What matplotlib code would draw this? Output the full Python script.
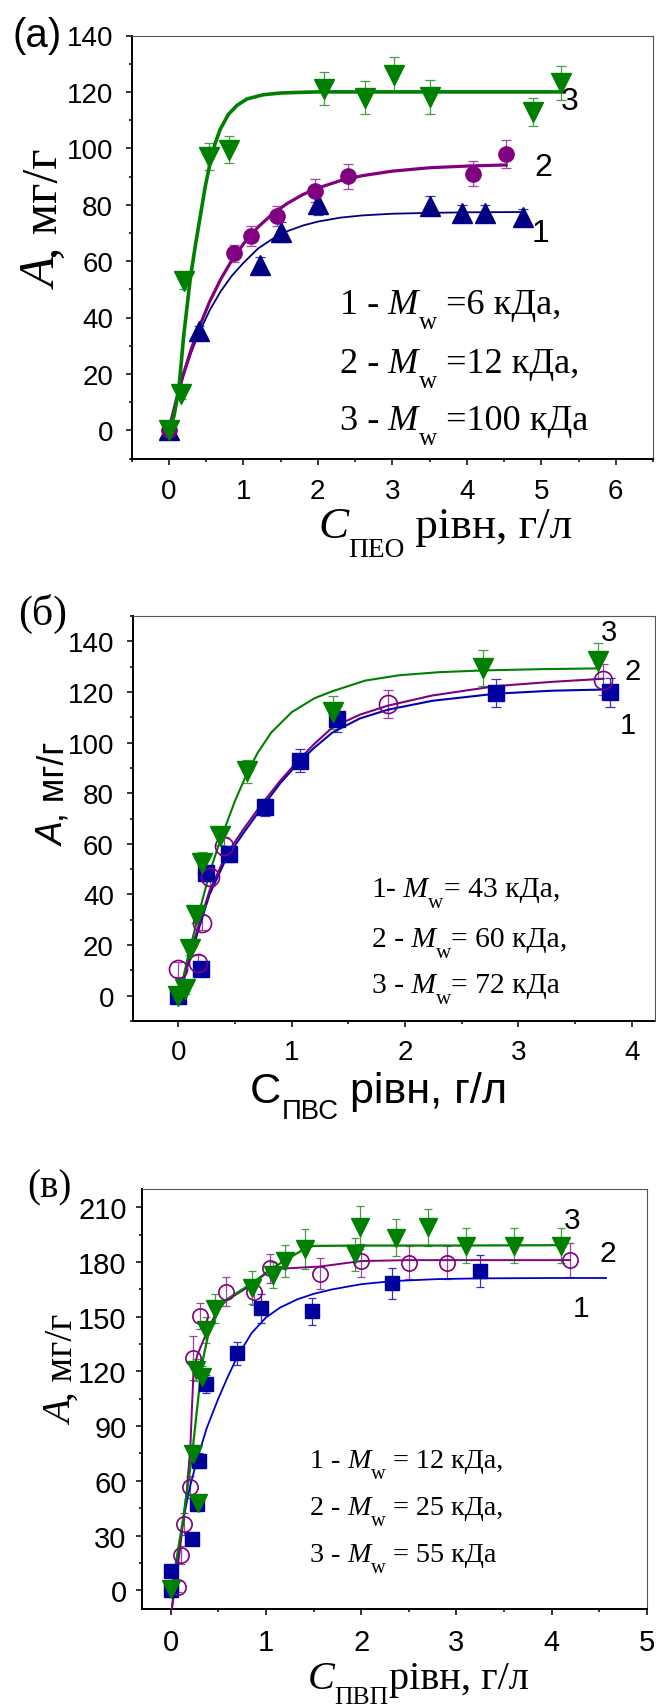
import matplotlib
matplotlib.use('Agg')
import matplotlib.pyplot as plt
from matplotlib.ticker import MultipleLocator

plt.rcParams['font.family'] = ['Liberation Sans', 'DejaVu Sans']
SANS = ['Liberation Sans', 'DejaVu Sans']
SERIF = ['Liberation Serif', 'DejaVu Serif']

# ---------------- data: panel (a) PEO ----------------
a1_x = [0, 0.41, 1.22, 1.50, 2.01, 3.51, 3.94, 4.25, 4.76]
a1_y = [0, 35.1, 58.5, 70.4, 80.2, 79.7, 77.0, 77.0, 75.6]
a1_err = [1.5, 2, 3, 3.5, 4, 3.5, 3, 3, 3]
a2_x = [0, 0.875, 1.11, 1.45, 1.96, 2.41, 4.09, 4.53]
a2_y = [0, 62.8, 69.0, 76.1, 85.0, 90.1, 91.0, 98.0]
a2_err = [1, 3, 3.5, 3.5, 4, 4.5, 4.5, 5]
a3_x = [0, 0.17, 0.21, 0.54, 0.81, 2.08, 2.63, 3.03, 3.51, 4.89, 5.26]
a3_y = [0, 13, 53, 97, 99.5, 121.2, 118, 126, 118.3, 113, 123.2]
a3_err = [1, 2, 3, 4.75, 4.75, 6, 6, 6.2, 6, 5, 6]
ac1_x = [0, 0.1, 0.2, 0.3, 0.4, 0.55, 0.7, 0.85, 1.0, 1.2, 1.4, 1.6, 1.8, 2.0, 2.3, 2.6, 3.0, 3.5, 4.0, 4.76]
ac1_y = [0, 10.5, 19.5, 27.4, 34.1, 42.6, 49.4, 54.9, 59.3, 64.5, 68.0, 70.7, 72.6, 74.0, 75.4, 76.2, 76.8, 77.1, 77.3, 77.4]
ac2_x = [0, 0.1, 0.2, 0.3, 0.4, 0.55, 0.7, 0.85, 1.0, 1.2, 1.4, 1.6, 1.8, 2.0, 2.3, 2.6, 3.0, 3.5, 4.0, 4.53]
ac2_y = [0, 10.7, 20.2, 28.6, 36.0, 45.7, 53.7, 60.4, 66.0, 72.1, 76.9, 80.6, 83.6, 85.9, 88.5, 90.3, 91.9, 93.1, 93.7, 94.1]
ac3_x = [0, 0.07, 0.135, 0.2, 0.29, 0.36, 0.424, 0.49, 0.557, 0.62, 0.69, 0.8, 0.92, 1.05, 1.27, 1.5, 1.72, 2.0, 3.0, 4.0, 5.26]
ac3_y = [0, 5, 14.5, 33.4, 54, 66, 76, 86.5, 95, 101.5, 106.7, 112, 115.3, 117.5, 119, 119.6, 119.8, 120, 120, 120, 120]
a_legend = ['=6 кДа,', '=12 кДа,', '=100 кДа']

# ---------------- data: panel (b) PVA ----------------
b1_x = [0, 0.20, 0.245, 0.443, 0.765, 1.07, 1.40, 2.80, 3.81]
b1_y = [0, 10.4, 48.4, 56, 74.4, 92.8, 109.3, 119.6, 119.9]
b1_err = [2, 2, 3, 3, 3.5, 4.6, 5.3, 5.7, 5.7]
b2_x = [0, 0.17, 0.21, 0.275, 0.40, 1.85, 3.75]
b2_y = [10.4, 13.1, 28.9, 46.7, 59.2, 115.3, 124.9]
b2_err = [3, 3, 3, 3.5, 3.5, 5.5, 6]
b3_x = [0, 0.055, 0.10, 0.158, 0.21, 0.363, 0.607, 1.366, 2.69, 3.70]
b3_y = [0, 2.5, 18.4, 31.8, 52.6, 63.2, 88.6, 112, 129.4, 132.4]
b3_err = [2, 2, 2.5, 3, 4, 3.5, 4.7, 6.5, 7, 7]
bc1_x = [0, 0.07, 0.17, 0.275, 0.42, 0.57, 0.715, 0.9, 1.07, 1.2, 1.36, 1.6, 1.85, 2.24, 2.8, 3.3, 3.81]
bc1_y = [-3, 10, 25, 40, 54, 64, 73, 84, 92.5, 98, 104, 109.5, 113, 116.5, 119.3, 120.5, 121]
bc2_x = [0, 0.07, 0.17, 0.275, 0.42, 0.57, 0.715, 0.9, 1.07, 1.2, 1.36, 1.6, 1.85, 2.24, 2.8, 3.3, 3.75]
bc2_y = [-2, 11.5, 26.5, 41.5, 55.5, 65.5, 74.5, 85, 93.5, 99.5, 106, 111, 114.6, 118.6, 122.3, 124, 125.2]
bc3_x = [0, 0.085, 0.19, 0.275, 0.363, 0.45, 0.5, 0.607, 0.7, 0.82, 1.0, 1.2, 1.36, 1.65, 1.95, 2.3, 2.69, 3.2, 3.71]
bc3_y = [-1.5, 15.5, 34, 48.5, 60.5, 71, 77, 88, 96, 104, 112, 117.5, 120.3, 124.5, 126.6, 127.8, 128.5, 129, 129.3]
b_legend = ['= 43 кДа,', '= 60 кДа,', '= 72 кДа']

# ---------------- data: panel (c) PVP ----------------
c1_x = [0, 0, 0.225, 0.277, 0.294, 0.375, 0.70, 0.95, 1.48, 2.325, 3.25]
c1_y = [0, 10.4, 27.9, 47.5, 71.0, 113.1, 129.9, 154.6, 153.0, 168.2, 174.8]
c1_err = [2, 3, 3, 3.5, 4, 5, 6.4, 8, 7.5, 8.4, 8.8]
c2_x = [0.08, 0.11, 0.137, 0.20, 0.23, 0.305, 0.585, 0.88, 1.047, 1.57, 2.0, 2.50, 2.90, 4.19]
c2_y = [2, 19.5, 36.3, 56.6, 127.2, 150.5, 163.7, 163.3, 176.5, 173.6, 180.6, 179.7, 179.7, 181]
c2_err = [3, 5, 6, 6, 12, 7, 8, 7, 8, 8.7, 9, 9, 9.3, 9.3]
c3_x = [0, 0.235, 0.265, 0.29, 0.33, 0.368, 0.464, 0.85, 1.07, 1.20, 1.41, 1.94, 1.99, 2.37, 2.70, 3.10, 3.60, 4.10]
c3_y = [0.5, 74.8, 121, 48, 117, 142.7, 154.3, 165.8, 172.8, 180.5, 187.1, 184.3, 198.9, 193.4, 198.9, 188.8, 188.8, 188.8]
c3_err = [2, 5, 6, 4, 6, 7, 8, 9, 7, 9, 10.8, 9, 11.8, 10, 10.4, 9.6, 9.6, 9.6]
cc1_x = [0.015, 0.05, 0.1, 0.15, 0.2, 0.28, 0.38, 0.5, 0.6, 0.7, 0.85, 1.0, 1.15, 1.33, 1.5, 1.7, 2.0, 2.33, 2.8, 3.25, 4.0, 4.57]
cc1_y = [-9, 8, 28, 43, 56, 72, 89, 105, 117, 128, 141, 149.5, 155, 159.5, 162.5, 165, 167.8, 169.5, 170.6, 171, 171.2, 171.2]
cc2_x = [0.015, 0.1, 0.17, 0.207, 0.225, 0.24, 0.277, 0.38, 0.48, 0.575, 0.87, 1.05, 1.57, 2.0, 2.5, 4.19]
cc2_y = [-10, 23, 55, 78, 101, 119, 128.5, 141.5, 152.5, 158.5, 168, 176, 177.5, 180.5, 181, 181]
cc3_x = [0, 0.137, 0.225, 0.277, 0.33, 0.39, 0.49, 0.59, 0.86, 1.05, 1.19, 1.40, 1.5, 2.0, 3.0, 4.15]
cc3_y = [-3, 41, 74, 99, 124, 139, 153, 159.5, 168.5, 176, 180.5, 187, 188.8, 189, 189, 189.2]
c_legend = ['= 12 кДа,', '= 25 кДа,', '= 55 кДа']

# ---------------- figure ----------------
W, H, DPI = 656, 1706, 100
fig = plt.figure(figsize=(W / DPI, H / DPI), dpi=DPI)
fig.patch.set_facecolor('white')
renderer = fig.canvas.get_renderer()


def ax_px(l, t, r, b):
    return fig.add_axes([l / W, 1 - b / H, (r - l) / W, (b - t) / H])


def txt(x, y, s, **kw):
    return fig.text(x / W, 1 - y / H, s, **kw)


def scaled(props, k):
    p = dict(props)
    p['size'] = props['size'] * k
    return p


def measure(pieces, k=1.0):
    total = 0.0
    for s, props, _ in pieces:
        t = fig.text(0, 0, s, **scaled(props, k))
        total += t.get_window_extent(renderer=renderer).width
        t.remove()
    return total


def fit_scale(pieces, length):
    return length / measure(pieces, 1.0)


def rich_h(x, y, pieces, k=1.0):
    for s, props, dy in pieces:
        t = txt(x, y + dy * k, s, ha='left', va='baseline', **scaled(props, k))
        x += t.get_window_extent(renderer=renderer).width


def rich_v(x, y, pieces, k=1.0):
    for s, props, dx in pieces:
        t = txt(x + dx * k, y, s, ha='left', va='baseline', rotation=90,
                rotation_mode='anchor', **scaled(props, k))
        y -= t.get_window_extent(renderer=renderer).height


def setup(ax, xlim, ylim, xmaj, xmin, ymaj, ymin, xpad, ypad, lsize):
    ax.set_xlim(*xlim)
    ax.set_ylim(*ylim)
    ax.xaxis.set_major_locator(MultipleLocator(xmaj))
    ax.xaxis.set_minor_locator(MultipleLocator(xmin))
    ax.yaxis.set_major_locator(MultipleLocator(ymaj))
    ax.yaxis.set_minor_locator(MultipleLocator(ymin))
    ax.tick_params(which='both', direction='out', top=False, right=False,
                   width=1.1, colors='black')
    ax.tick_params(which='major', length=4.3)
    ax.tick_params(which='minor', length=2.5)
    ax.tick_params(axis='x', pad=xpad, labelsize=lsize)
    ax.tick_params(axis='y', pad=ypad, labelsize=lsize)
    for s in ['left', 'bottom']:
        ax.spines[s].set_linewidth(1.4)
        ax.spines[s].set_color('black')
    for s in ['top', 'right']:
        ax.spines[s].set_linewidth(0.8)
        ax.spines[s].set_color('#555555')
    for lab in ax.get_xticklabels() + ax.get_yticklabels():
        lab.set_fontfamily(SANS)


def series(ax, x, y, err, color, ecolor, marker, ms, cap, open_=False):
    ax.errorbar(x, y, yerr=err, fmt='none', ecolor=ecolor, elinewidth=0.9,
                capsize=cap, capthick=0.9, zorder=2, clip_on=False)
    if open_:
        ax.plot(x, y, ls='none', marker=marker, ms=ms, mfc='none', mec=color,
                mew=1.2, zorder=4, clip_on=False)
    else:
        ax.plot(x, y, ls='none', marker=marker, ms=ms, color=color, mec=color,
                zorder=4, clip_on=False)


def legend_block(x, baselines, prefixes, tails, main, it, sub, sub_dy, width1):
    lines = []
    for pre, tail in zip(prefixes, tails):
        lines.append([(pre, main, 0), (' M', it, 0), ('w', sub, sub_dy), (tail, main, 0)])
    k = fit_scale(lines[0], width1)
    for pieces, y in zip(lines, baselines):
        rich_h(x, y, pieces, k)


NAVY, PURPLE, GREEN = '#000080', '#800080', '#008000'

# ================= panel (a) =================
axa = ax_px(131.5, 36.5, 653, 459.5)
setup(axa, (-0.5, 6.5), (-10, 140), 1, 0.5, 20, 10, 9.5, 9.0, 20)
axa.plot(ac1_x, ac1_y, color=NAVY, lw=1.3, zorder=3)
axa.plot(ac2_x, ac2_y, color=PURPLE, lw=2.3, zorder=3)
axa.plot(ac3_x, ac3_y, color=GREEN, lw=2.6, zorder=3)
series(axa, a1_x, a1_y, a1_err, NAVY, '#3535a5', '^', 14, 3.6)
series(axa, a2_x, a2_y, a2_err, PURPLE, '#a545a5', 'o', 11, 3.6)
series(axa, a3_x, a3_y, a3_err, GREEN, '#45a045', 'v', 14, 3.6)

txt(37, 36, '(a)', ha='center', va='center', family=SANS, size=29)
for lbl, (x, y) in zip(['3', '2', '1'], [(570, 110), (543, 176.5), (540, 241.5)]):
    txt(x, y, lbl, ha='center', va='baseline', family=SANS, size=23)

legend_block(340, [314, 373, 430], ['1 -', '2 -', '3 -'], [' ' + s for s in a_legend],
             dict(family=SERIF, size=24.5), dict(family=SERIF, size=24.5, style='italic'),
             dict(family=SERIF, size=17), 14, 221)

pa_x = [('C', dict(family=SERIF, size=33, style='italic'), 0),
        ('ПЕО', dict(family=SERIF, size=20), 19),
        (' рівн, г/л', dict(family=SERIF, size=33), 0)]
rich_h(318, 538, pa_x, fit_scale(pa_x, 255))
pa_y = [('A', dict(family=SERIF, size=30, style='italic'), 0),
        (', мг/г', dict(family=SERIF, size=30), 0)]
rich_v(57, 289, pa_y, fit_scale(pa_y, 141))

# ================= panel (b) =================
axb = ax_px(133, 617, 654.5, 1022)
setup(axb, (-0.4, 4.2), (-10, 150), 1, 0.5, 20, 10, 9.0, 9.4, 20)
B_BLUE = '#0000A0'
axb.plot(bc1_x, bc1_y, color='#0000B4', lw=1.5, zorder=3)
axb.plot(bc2_x, bc2_y, color=PURPLE, lw=1.5, zorder=3)
axb.plot(bc3_x, bc3_y, color=GREEN, lw=1.5, zorder=3)
series(axb, b1_x, b1_y, b1_err, B_BLUE, '#3535c0', 's', 11, 3.6)
series(axb, b2_x, b2_y, b2_err, PURPLE, '#a040a0', 'o', 13, 3.6, open_=True)
series(axb, b3_x, b3_y, b3_err, GREEN, '#40a040', 'v', 15, 3.6)

txt(43, 613.5, '(б)', ha='center', va='center', family=SERIF, size=30)
for lbl, (x, y) in zip(['3', '2', '1'], [(609, 641), (633, 680.5), (628, 734)]):
    txt(x, y, lbl, ha='center', va='baseline', family=SANS, size=21)

legend_block(371.5, [897, 947, 993], ['1-', '2 -', '3 -'], b_legend,
             dict(family=SERIF, size=21), dict(family=SERIF, size=21, style='italic'),
             dict(family=SERIF, size=15), 11, 188)

pb_x = [('C', dict(family=SANS, size=29), 0),
        ('ПВС', dict(family=SANS, size=18.5), 15),
        (' рівн, г/л', dict(family=SANS, size=29), 0)]
rich_h(250, 1103, pb_x, fit_scale(pb_x, 257))
pb_y = [('A', dict(family=SANS, size=27, style='italic'), 0),
        (', мг/г', dict(family=SANS, size=27), 0)]
rich_v(64, 846, pb_y, fit_scale(pb_y, 104))

# ================= panel (c) =================
axc = ax_px(142, 1190, 647, 1609.5)
setup(axc, (-0.3, 5), (-10, 220), 1, 0.5, 30, 15, 10.0, 6.8, 21)
C_BLUE = '#00009A'
axc.plot(cc1_x, cc1_y, color='#0000CD', lw=1.3, zorder=3)
axc.plot(cc2_x, cc2_y, color=PURPLE, lw=1.4, zorder=3)
axc.plot(cc3_x, cc3_y, color=GREEN, lw=1.6, zorder=3)
series(axc, c1_x, c1_y, c1_err, C_BLUE, '#3030c0', 's', 10, 3.0)
series(axc, c2_x, c2_y, c2_err, PURPLE, '#a040a0', 'o', 11, 3.0, open_=True)
series(axc, c3_x, c3_y, c3_err, GREEN, '#40a040', 'v', 13.5, 3.0)

txt(49, 1188, '(в)', ha='center', va='center', family=SERIF, size=28)
for lbl, (x, y) in zip(['3', '2', '1'], [(572, 1229), (608, 1262.4), (581, 1317.4)]):
    txt(x, y, lbl, ha='center', va='baseline', family=SANS, size=21.5)

legend_block(310.5, [1468, 1515, 1562], ['1 -', '2 -', '3 -'], [' ' + s for s in c_legend],
             dict(family=SERIF, size=20), dict(family=SERIF, size=20, style='italic'),
             dict(family=SERIF, size=14.5), 11, 193)

pc_x = [('C', dict(family=SERIF, size=29, style='italic'), 0),
        ('ПВП', dict(family=SERIF, size=18.5), 15),
        ('рівн, г/л', dict(family=SERIF, size=29), 0)]
rich_h(307.5, 1689, pc_x, fit_scale(pc_x, 221))
pc_y = [('A', dict(family=SERIF, size=27, style='italic'), 0),
        (', мг/г', dict(family=SERIF, size=27), 0)]
rich_v(72, 1425, pc_y, fit_scale(pc_y, 111))

fig.savefig('out.png', dpi=DPI, facecolor='white')
